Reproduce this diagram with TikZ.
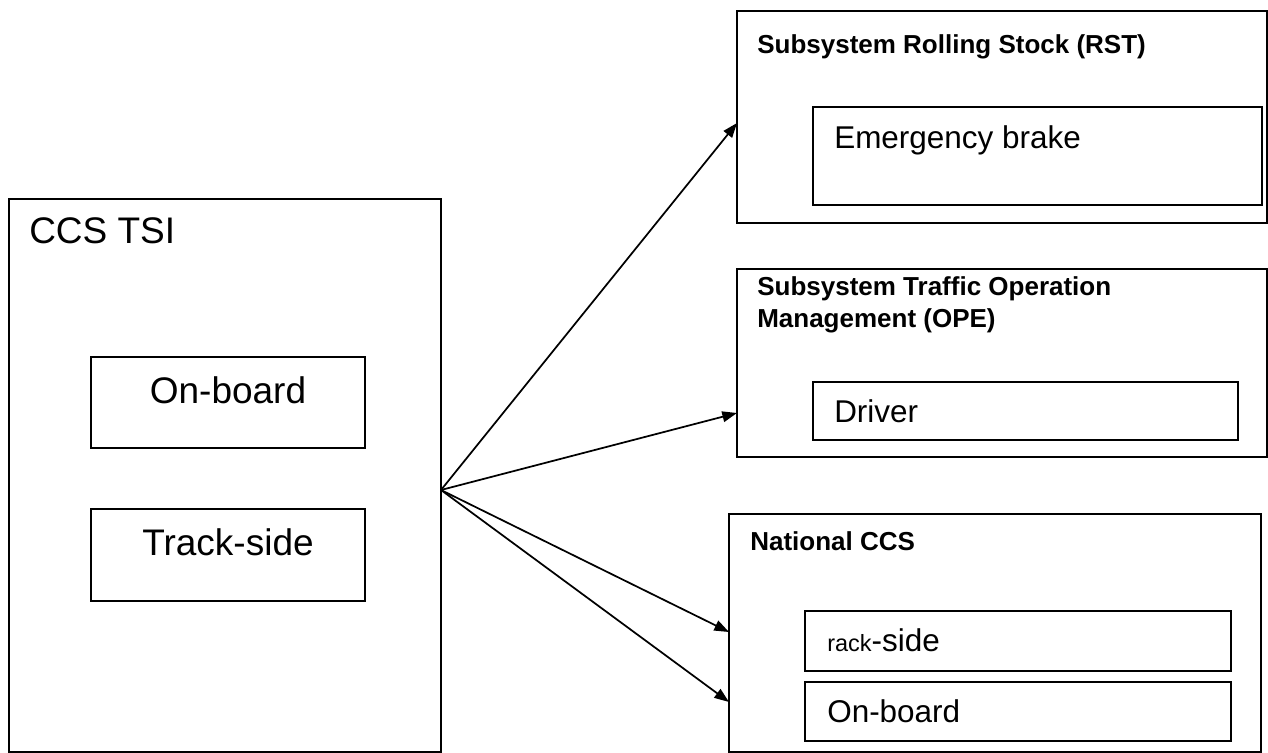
\documentclass[tikz,border=0pt]{standalone}
\usepackage{fontspec}
\setmainfont{Liberation Sans}
\usetikzlibrary{fit,arrows.meta}

\begin{document}
\begin{tikzpicture}[
  x=0.75pt, y=-0.75pt,
  box/.style={draw=black, line width=1.4pt, inner sep=0pt, fill=none},
  arr/.style={draw=black, line width=1.3pt, -{Triangle[length=11pt,width=8pt]}},
  bigtxt/.style={inner sep=0pt, font=\fontsize{27.75}{33}\selectfont},
  midtxt/.style={inner sep=0pt, font=\fontsize{23.6}{28}\selectfont},
  headtxt/.style={inner sep=0pt, font=\fontsize{19.5}{24}\selectfont\bfseries},
]
\useasboundingbox (0,0) rectangle (1268,753);
\fill[white] (0,0) rectangle (1268,753);

% CCS TSI with its two parts
\node[box, fit={(9,199) (441,752)}] (ccs) {};
\node[box, fit={(91,357) (365,448)}] (ob1) {};
\node[box, fit={(91,509) (365,601)}] (ts1) {};
\node[bigtxt, anchor=base west] (ccsT) at (29,243) {CCS TSI};
\node[bigtxt, anchor=base] (ob1T) at (228,403) {On-board};
\node[bigtxt, anchor=base] (ts1T) at (228,555) {Track-side};

% Rolling stock subsystem
\node[box, fit={(737,11) (1267,223)}] (rst) {};
\node[box, fit={(813,107) (1262,205)}] (emb) {};
\node[headtxt, anchor=base west] (rstT) at (757,53) {Subsystem Rolling Stock (RST)};
\node[midtxt, anchor=base west] (embT) at (834,148) {Emergency brake};

% Traffic operation subsystem
\node[box, fit={(737,269) (1267,457)}] (ope) {};
\node[box, fit={(813,382) (1238,440)}] (drv) {};
\node[headtxt, anchor=base west] (opeT1) at (757,295) {Subsystem Traffic Operation};
\node[headtxt, anchor=base west] (opeT2) at (757,327) {Management (OPE)};
\node[midtxt, anchor=base west] (drvT) at (834,422) {Driver};

% National CCS
\node[box, fit={(729,514) (1261,752)}] (nat) {};
\node[box, fit={(805,611) (1231,671)}] (rs2) {};
\node[box, fit={(805,682) (1231,741)}] (ob2) {};
\node[headtxt, anchor=base west] (natT) at (750,550) {National CCS};
\node[midtxt, anchor=base west] (rs2T) at (827,651) {{\fontsize{17.6}{20}\selectfont rack}-side};
\node[midtxt, anchor=base west] (ob2T) at (827,722) {On-board};

% connectors from the CCS TSI box
\coordinate (src) at (441,490);
\coordinate (tipR) at (737,123);
\coordinate (tipO) at (737,413);
\coordinate (tipN1) at (729,632);
\coordinate (tipN2) at (729,702);
\draw[arr] (src) -- (tipR);
\draw[arr] (src) -- (tipO);
\draw[arr] (src) -- (tipN1);
\draw[arr] (src) -- (tipN2);
\end{tikzpicture}
\end{document}
